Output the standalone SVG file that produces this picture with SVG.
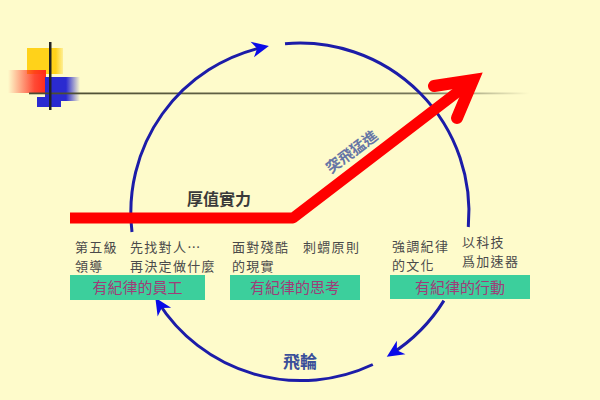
<svg xmlns="http://www.w3.org/2000/svg" width="600" height="400" viewBox="0 0 600 400">
<defs>
<style>
.t{font-family:"Noto Sans CJK TC","Noto Sans CJK SC",sans-serif;}
.lbl{font-size:13px;fill:#4a4a4a;letter-spacing:1.3px;}
.box{fill:#3ccf9c;}
.bt{font-size:15px;fill:#a03c78;text-anchor:middle;}
.arc{fill:none;stroke:#1c1ca8;stroke-width:3;}
</style>
<marker id="ah" markerUnits="userSpaceOnUse" viewBox="-14 -10 20 20" markerWidth="20" markerHeight="20" refX="0" refY="0" orient="auto">
<path d="M5,0 L-12,-8 L-7,0 L-12,8 Z" fill="#0a0ae8"/>
</marker>
<linearGradient id="gr" x1="0" y1="0" x2="1" y2="0">
<stop offset="0" stop-color="#ff2a1a" stop-opacity="0"/>
<stop offset="0.7" stop-color="#ff2a1a" stop-opacity="0.85"/>
<stop offset="1" stop-color="#ff2a1a"/>
</linearGradient>
<linearGradient id="gb" x1="0" y1="0" x2="1" y2="0">
<stop offset="0" stop-color="#2a2ad0"/>
<stop offset="0.6" stop-color="#2a2ad0"/>
<stop offset="1" stop-color="#2a2ad0" stop-opacity="0"/>
</linearGradient>
<linearGradient id="gy" x1="0" y1="0" x2="1" y2="0">
<stop offset="0" stop-color="#ffd21a"/>
<stop offset="0.8" stop-color="#ffd21a"/>
<stop offset="1" stop-color="#ffd21a" stop-opacity="0.3"/>
</linearGradient>
<linearGradient id="gl" x1="0" y1="0" x2="1" y2="0">
<stop offset="0" stop-color="#4a4a30"/>
<stop offset="0.8" stop-color="#77775a"/>
<stop offset="1" stop-color="#77775a" stop-opacity="0"/>
</linearGradient>
</defs>
<rect width="600" height="400" fill="#fefbcb"/>

<g id="deco">
<rect x="27" y="48" width="36" height="26" fill="url(#gy)"/>
<rect x="8" y="70" width="38" height="23" fill="url(#gr)"/>
<rect x="45" y="77" width="35" height="24" fill="url(#gb)"/>
<rect x="37" y="97" width="24" height="10" fill="#2a2ad0"/>
<rect x="29" y="92.5" width="500" height="1.8" fill="url(#gl)"/>
<rect x="49" y="42" width="2.5" height="68" fill="#222"/>
</g>

<g id="connectors">
<path class="arc" d="M132,232 A169,169 0 0 1 264,47" marker-end="url(#ah)"/>
<path class="arc" d="M285,43.7 A169,169 0 0 1 468.3,227"/>
<path class="arc" d="M443.9,300.6 A169,169 0 0 1 391,354" marker-end="url(#ah)"/>
<path class="arc" d="M372.8,364.5 A169,169 0 0 1 158,302" marker-end="url(#ah)"/>
</g>

<g id="growth">
<polyline points="70,218 293,218 468,84" fill="none" stroke="#ff0000" stroke-width="11" stroke-linejoin="round"/>
<polyline points="434,86 473,80 457,118" fill="none" stroke="#ff0000" stroke-width="12" stroke-linecap="round" stroke-linejoin="miter"/>
<text class="t" x="219" y="205" font-size="16" font-weight="bold" fill="#3a3a3a" text-anchor="middle">厚值實力</text>
<text class="t" x="352" y="157" font-size="15" font-weight="bold" fill="#6676a6" text-anchor="middle" transform="rotate(-37 352 152)">突飛猛進</text>
</g>

<g id="n1">
<text class="t lbl" x="75" y="252">第五級</text>
<text class="t lbl" x="75" y="271">領導</text>
<text class="t lbl" x="130" y="252">先找對人…</text>
<text class="t lbl" x="130" y="271">再決定做什麼</text>
<rect class="box" x="70" y="275" width="135" height="25"/>
<text class="t bt" x="137.5" y="293">有紀律的員工</text>
</g>

<g id="n2">
<text class="t lbl" x="232" y="252">面對殘酷</text>
<text class="t lbl" x="232" y="271">的現實</text>
<text class="t lbl" x="303" y="252">刺蝟原則</text>
<rect class="box" x="230" y="275" width="130" height="25"/>
<text class="t bt" x="295" y="293">有紀律的思考</text>
</g>

<g id="n3">
<text class="t lbl" x="392" y="251">強調紀律</text>
<text class="t lbl" x="392" y="270">的文化</text>
<text class="t lbl" x="462" y="247">以科技</text>
<text class="t lbl" x="462" y="266">爲加速器</text>
<rect class="box" x="390" y="275" width="140" height="24"/>
<text class="t bt" x="460" y="293">有紀律的行動</text>
</g>

<g id="flywheel">
<text class="t" x="300" y="368" font-size="17" font-weight="bold" fill="#3b4f9a" text-anchor="middle">飛輪</text>
</g>
</svg>
